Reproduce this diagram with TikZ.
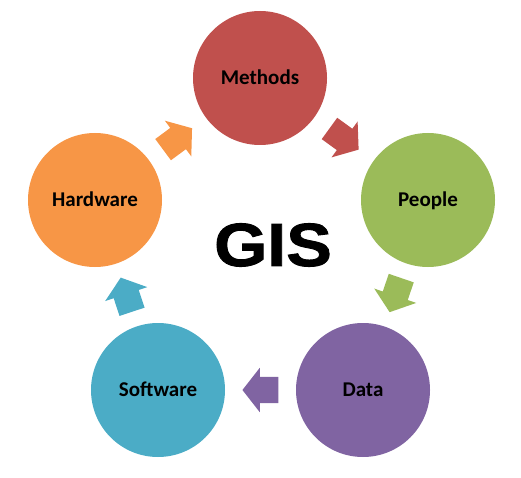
\documentclass[tikz,border=0pt]{standalone}
\usepackage{fontspec}
\setmainfont{Carlito}
\newfontfamily\gisfont[FakeBold=1.5,FakeStretch=1.12]{Liberation Sans}
\usetikzlibrary{shapes.arrows}
\definecolor{methodsred}{HTML}{C0504D}
\definecolor{peoplegreen}{HTML}{9BBB59}
\definecolor{datapurple}{HTML}{8064A2}
\definecolor{softwareblue}{HTML}{4BACC6}
\definecolor{hardwareorange}{HTML}{F79646}

\begin{document}
\begin{tikzpicture}[x=1pt,y=-1pt,
  stage/.style={circle,minimum size=134pt,inner sep=0pt,
    font=\bfseries\fontsize{21}{25}\selectfont,text height=13pt,text depth=0pt},
  blockarrow/.style={single arrow,minimum height=36pt,minimum width=44pt,
    single arrow head extend=9pt,single arrow tip angle=104,
    inner xsep=0pt,inner ysep=13pt,outer sep=0pt,anchor=tail,
    sloped,allow upside down}]

\useasboundingbox (0,0) rectangle (521,478);

% circles
\node[stage,fill=methodsred] (methods) at (260,78) {Methods};
\node[stage,fill=peoplegreen] (people) at (428,200) {People};
\node[stage,fill=datapurple] (data) at (363,390) {Data};
\node[stage,fill=softwareblue] (software) at (158,390) {Software};
\node[stage,fill=hardwareorange] (hardware) at (95,200) {Hardware};
%% centre label
\node[font=\gisfont\bfseries\fontsize{61}{70}\selectfont] (gis) at (273,245) {GIS};

% arrows
\path (methods) -- node[blockarrow,pos=0.255,fill=methodsred] (methodsarrow) {} (people);
\path (people) -- node[blockarrow,pos=0.231,fill=peoplegreen] (peoplearrow) {} (data);
\path (data) -- node[blockarrow,pos=0.246,fill=datapurple] (dataarrow) {} (software);
\path (software) -- node[blockarrow,pos=0.231,fill=softwareblue] (softwarearrow) {} (hardware);
\path (hardware) -- node[blockarrow,pos=0.247,fill=hardwareorange] (hardwarearrow) {} (methods);

\end{tikzpicture}
\end{document}
